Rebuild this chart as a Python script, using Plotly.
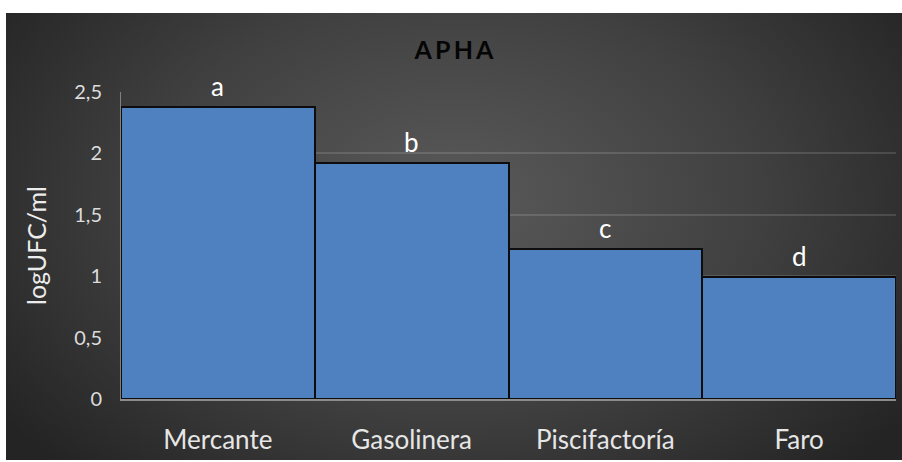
import base64
import plotly.graph_objects as go

# Sampling sites and mean counts (logUFC/ml) with significance groups
sites = ["Mercante", "Gasolinera", "Piscifactoría", "Faro"]
log_ufc = [2.38, 1.92, 1.22, 0.99]
groups = ["a", "b", "c", "d"]

y_ticks = [0, 0.5, 1, 1.5, 2, 2.5]
y_tick_text = ["0", "0,5", "1", "1,5", "2", "2,5"]

W, H = 902, 462
L, R, T, B = 121, 6, 92, 63
plot_w = W - L - R
plot_h = H - T - B

# Dark radial-gradient backdrop
svg = (
    '<svg xmlns="http://www.w3.org/2000/svg" width="896" height="447" '
    'preserveAspectRatio="none" viewBox="0 0 896 447">'
    '<defs><radialGradient id="g" cx="0.5" cy="0.42" r="0.62" '
    'gradientTransform="translate(0.5 0.42) scale(1 1.35) translate(-0.5 -0.42)">'
    '<stop offset="0" stop-color="#5a5a5a"/>'
    '<stop offset="0.55" stop-color="#404040"/>'
    '<stop offset="1" stop-color="#242424"/>'
    '</radialGradient></defs>'
    '<rect width="896" height="447" fill="url(#g)"/></svg>'
)
bg_uri = "data:image/svg+xml;base64," + base64.b64encode(svg.encode()).decode()

fig = go.Figure()
fig.add_trace(go.Bar(
    x=sites,
    y=log_ufc,
    width=1.0,
    marker=dict(color="#4f80c0", line=dict(color="#0d0d0d", width=2)),
    hoverinfo="x+y",
))

for site, val, grp in zip(sites, log_ufc, groups):
    fig.add_annotation(
        x=site, y=val, text=grp, showarrow=False,
        yanchor="bottom", yshift=3,
        font=dict(family="Lato, sans-serif", size=26, color="#ffffff"),
    )

fig.add_layout_image(
    source=bg_uri, xref="paper", yref="paper",
    x=(6 - L) / plot_w, y=(H - B - 13) / plot_h,
    sizex=896 / plot_w, sizey=447 / plot_h,
    xanchor="left", yanchor="top", sizing="stretch", layer="below",
)

fig.update_layout(
    width=W, height=H,
    margin=dict(l=L, r=R, t=T, b=B),
    paper_bgcolor="#ffffff",
    plot_bgcolor="rgba(0,0,0,0)",
    showlegend=False,
    bargap=0,
    title=dict(
        text="<b>A\u2009P\u2009H\u2009A</b>", x=0.5 * (W + 6) / W, xanchor="center",
        y=1 - 50 / H, yanchor="middle",
        font=dict(family="Lato, sans-serif", size=25, color="#050505"),
    ),
    xaxis=dict(
        range=[-0.5, 3.5],
        showgrid=False,
        showline=True, linecolor="#8c8c8c", linewidth=2,
        ticks="", ticklabelstandoff=17,
        tickfont=dict(family="Lato, sans-serif", size=26, color="#e6e6e6"),
    ),
    yaxis=dict(
        range=[0, 2.5],
        tickvals=y_ticks, ticktext=y_tick_text,
        showgrid=True, gridcolor="rgba(255,255,255,0.13)", gridwidth=2,
        zeroline=False,
        showline=True, linecolor="rgba(200,200,200,0.5)", linewidth=1,
        ticks="", ticklabelstandoff=14,
        tickfont=dict(family="Lato, sans-serif", size=20, color="#dcdcdc"),
        title=dict(text="logUFC/ml", standoff=20,
                   font=dict(family="Lato, sans-serif", size=25, color="#ececec")),
    ),
)

fig.write_html("out.html")
